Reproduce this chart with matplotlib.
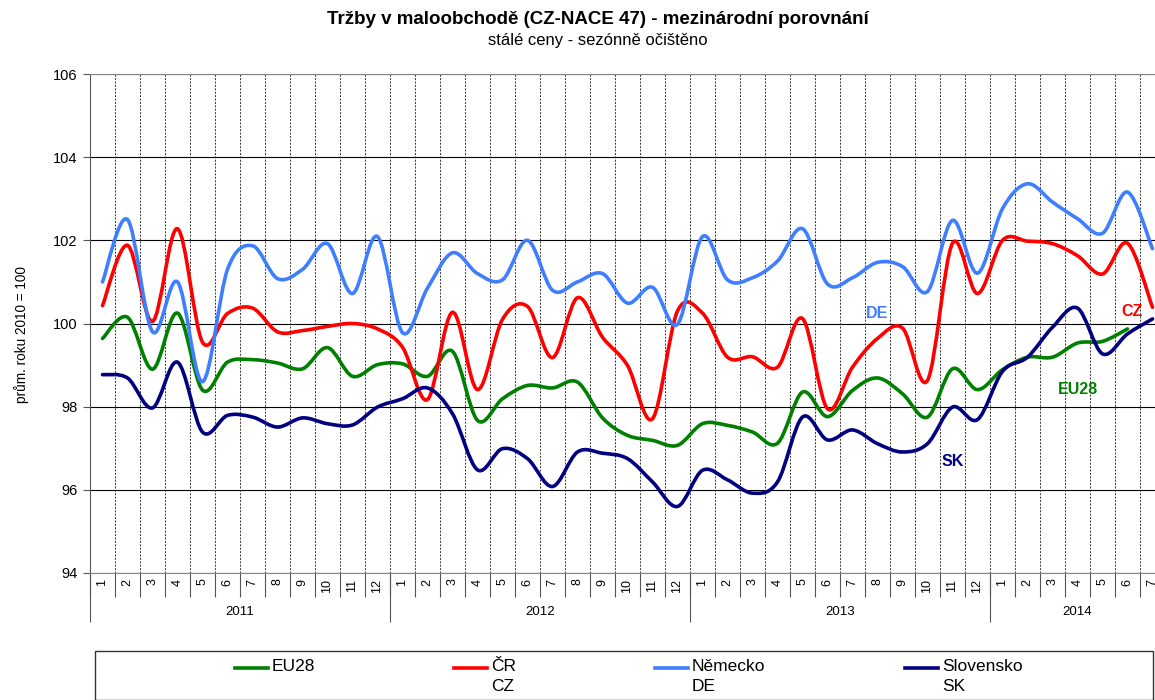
"""Tržby v maloobchodě - mezinárodní porovnání (smoothed Excel-like lines)."""

import numpy as np
import matplotlib
matplotlib.use("Agg")
import matplotlib.pyplot as plt
from matplotlib.path import Path
from matplotlib.patches import PathPatch, Rectangle
from matplotlib.lines import Line2D

plt.rcParams["font.family"] = ["Liberation Sans", "DejaVu Sans"]

# data: months 1/2011 .. 7/2014
months = [str(m) for m in range(1, 13)] * 3 + [str(m) for m in range(1, 8)]
years = ["2011", "2012", "2013", "2014"]
year_lengths = [12, 12, 12, 7]

eu28 = [99.64, 100.15, 98.90, 100.25, 98.40, 99.07, 99.13, 99.05, 98.91, 99.42, 98.73, 99.01,
        99.03, 98.73, 99.33, 97.67, 98.19, 98.51, 98.45, 98.59, 97.73, 97.31, 97.19, 97.07,
        97.59, 97.55, 97.39, 97.12, 98.35, 97.76, 98.39, 98.69, 98.31, 97.75, 98.91, 98.41,
        98.89, 99.19, 99.19, 99.53, 99.57, 99.87]
cz = [100.43, 101.88, 100.05, 102.28, 99.55, 100.24, 100.37, 99.80, 99.83, 99.93, 100.00, 99.87,
      99.43, 98.17, 100.27, 98.41, 100.10, 100.41, 99.18, 100.62, 99.67, 98.99, 97.71, 100.30,
      100.25, 99.19, 99.20, 98.95, 100.12, 97.95, 98.95, 99.64, 99.89, 98.63, 101.93, 100.72,
      102.00, 101.98, 101.92, 101.63, 101.19, 101.93, 100.39]
de = [101.00, 102.50, 99.80, 101.00, 98.60, 101.30, 101.87, 101.08, 101.30, 101.92, 100.72, 102.09,
      99.78, 100.85, 101.70, 101.20, 101.05, 102.00, 100.80, 101.00, 101.20, 100.49, 100.87, 99.98,
      102.09, 101.05, 101.10, 101.50, 102.28, 100.95, 101.10, 101.47, 101.37, 100.77, 102.48, 101.21,
      102.76, 103.36, 102.92, 102.52, 102.17, 103.16, 101.80]
sk = [98.77, 98.69, 97.97, 99.07, 97.39, 97.79, 97.75, 97.51, 97.73, 97.59, 97.56, 97.99,
      98.19, 98.45, 97.83, 96.48, 96.99, 96.75, 96.08, 96.91, 96.88, 96.75, 96.19, 95.60,
      96.47, 96.24, 95.92, 96.19, 97.75, 97.20, 97.44, 97.11, 96.91, 97.11, 97.99, 97.69,
      98.85, 99.19, 99.91, 100.37, 99.27, 99.75, 100.11]

series = [
    ("EU28", "EU28", eu28, "#008000"),
    ("ČR\nCZ", "CZ", cz, "#FF0000"),
    ("Německo\nDE", "DE", de, "#3F7FFF"),
    ("Slovensko\nSK", "SK", sk, "#000080"),
]


def smooth_path(xs, ys):
    """Bezier path through the points (Catmull-Rom tangents, like Excel smoothing)."""
    pts = np.column_stack([xs, ys])
    n = len(pts)
    verts = [pts[0]]
    codes = [Path.MOVETO]
    for i in range(n - 1):
        p0 = pts[i - 1] if i > 0 else pts[i]
        p1 = pts[i]
        p2 = pts[i + 1]
        p3 = pts[i + 2] if i + 2 < n else pts[i + 1]
        verts += [p1 + (p2 - p0) / 6, p2 - (p3 - p1) / 6, p2]
        codes += [Path.CURVE4] * 3
    return Path(verts, codes)


W, H = 1155, 700
fig = plt.figure(figsize=(W / 100, H / 100), dpi=100)
n = len(months)
ax = fig.add_axes([90 / W, (H - 573) / H, 25 * n / W, 499 / H])

ax.set_xlim(0, n)
ax.set_ylim(94, 106)
ax.set_yticks(range(94, 107, 2))
ax.yaxis.grid(True, color="black", lw=0.8)
ax.vlines(range(1, n), 94, 106, colors="#333333", linestyles=(0, (2, 1.5)), lw=0.7)
ax.set_axisbelow(True)

for label, short, vals, color in series:
    xs = np.arange(len(vals)) + 0.5
    ax.add_patch(PathPatch(smooth_path(xs, vals), fill=False, edgecolor=color,
                           lw=2.6, capstyle="round", joinstyle="round", zorder=3))

# series labels inside the plot
lab_kw = dict(fontsize=11.5, fontweight="bold", ha="center", va="center")
ax.text(31.5, 100.25, "DE", color="#3F7FFF", **lab_kw)
ax.text(41.7, 100.3, "CZ", color="#FF0000", **lab_kw)
ax.text(39.5, 98.42, "EU28", color="#008000", **lab_kw)
ax.text(34.5, 96.68, "SK", color="#000080", **lab_kw)

ax.spines["right"].set_visible(False)
ax.spines["top"].set_color("#888888")
ax.spines["bottom"].set_color("#888888")
ax.spines["left"].set_color("#555555")

ax.tick_params(axis="y", length=5, pad=4, labelsize=10.5, color="#555555")
ax.set_xticks(np.arange(n) + 0.5)
ax.set_xticklabels(months, rotation=90, fontsize=9)
ax.tick_params(axis="x", which="major", length=0, pad=4)
ax.set_xticks(np.arange(n + 1), minor=True)
ax.tick_params(axis="x", which="minor", length=17.5, color="#555555", width=0.8)

xt = ax.get_xaxis_transform()
start = 0
for yr, ln in zip(years, year_lengths):
    ax.vlines(start, 0, -49 / 499, transform=xt, colors="#555555", lw=0.8, clip_on=False)
    ax.text(start + ln / 2, -39 / 499, yr, transform=xt, ha="center", va="center", fontsize=9.5)
    start += ln

fig.text(22 / W, 1 - 335 / H, "prům. roku 2010 = 100", rotation=90,
         ha="center", va="center", fontsize=9.8)

fig.text(598 / W, 1 - 20 / H, "Tržby v maloobchodě (CZ-NACE 47) - mezinárodní porovnání",
         ha="center", va="center", fontsize=13.5, fontweight="bold")
fig.text(598 / W, 1 - 40 / H, "stálé ceny - sezónně očištěno", ha="center", va="center", fontsize=12)

# legend box
fig.patches.append(Rectangle((95 / W, 0), (1153 - 95) / W, (H - 651) / H, transform=fig.transFigure,
                             fill=False, edgecolor="#333333", lw=1))
leg_x = [235, 454, 655, 905]
for (label, short, vals, color), lx in zip(series, leg_x):
    y = 1 - 668 / H
    fig.add_artist(Line2D([lx / W, (lx + 33) / W], [y, y], color=color, lw=2.6))
    fig.text((lx + 37) / W, 1 - 659 / H, label, ha="left", va="top", fontsize=12.5, linespacing=1.38)

fig.savefig("out.png", dpi=100)
